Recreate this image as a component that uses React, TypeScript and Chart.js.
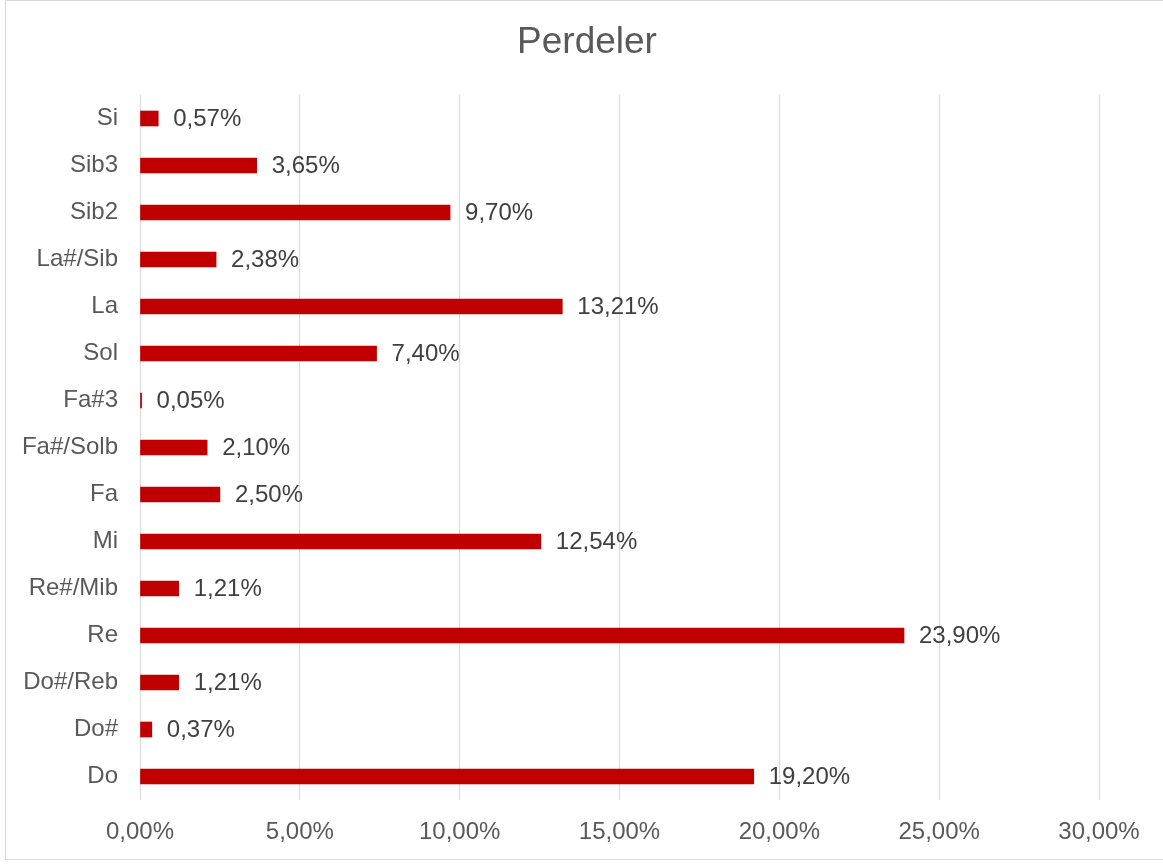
import React, { useEffect, useRef } from "react";
import { Chart, registerables } from "chart.js";

Chart.register(...registerables);

const categories = ["Do", "Do#", "Do#/Reb", "Re", "Re#/Mib", "Mi", "Fa", "Fa#/Solb", "Fa#3", "Sol", "La", "La#/Sib", "Sib2", "Sib3", "Si"];
const values = [19.2, 0.37, 1.21, 23.9, 1.21, 12.54, 2.5, 2.1, 0.05, 7.4, 13.21, 2.38, 9.7, 3.65, 0.57];
const xTicks = [0, 5, 10, 15, 20, 25, 30];
const title = "Perdeler";

const FONT = '"Liberation Sans", Arial, sans-serif';
const fmt = (v: number) => v.toFixed(2).replace(".", ",") + "%";

const labelPlugin = {
  id: "barLabels",
  afterDatasetsDraw(chart: any) {
    const ctx = chart.ctx;
    const meta = chart.getDatasetMeta(0);
    ctx.save();
    ctx.font = "24px " + FONT;
    ctx.fillStyle = "#404040";
    ctx.textAlign = "left";
    ctx.textBaseline = "middle";
    meta.data.forEach((bar: any, i: number) => {
      ctx.fillText(fmt(values[i]), bar.x + 15, bar.y + 1);
    });
    ctx.restore();
  },
};

const titlePlugin = {
  id: "centerTitle",
  afterDraw(chart: any) {
    const ctx = chart.ctx;
    ctx.save();
    ctx.font = "37px " + FONT;
    ctx.fillStyle = "#595959";
    ctx.textAlign = "center";
    ctx.textBaseline = "middle";
    ctx.fillText(title, 587, 43);
    ctx.restore();
  },
};

export default function App() {
  const ref = useRef<HTMLCanvasElement>(null);
  useEffect(() => {
    if (!ref.current) return;
    const chart = new Chart(ref.current, {
      type: "bar",
      data: {
        labels: categories,
        datasets: [
          {
            data: values,
            backgroundColor: "#c00000",
            borderWidth: 0,
            barThickness: 15,
          },
        ],
      },
      options: {
        indexAxis: "y",
        responsive: false,
        animation: false,
        layout: { padding: { left: 0, right: 64, top: 95, bottom: 0 } },
        plugins: {
          legend: { display: false },
          tooltip: { enabled: false },
          title: { display: false },
        },
        scales: {
          x: {
            min: 0,
            max: 30,
            afterBuildTicks: (s: any) => {
              s.ticks = xTicks.map((v) => ({ value: v }));
            },
            afterFit: (s: any) => {
              s.height = 64;
            },
            grid: { color: "#d9d9d9", lineWidth: 1, drawTicks: false },
            border: { display: false },
            ticks: {
              padding: 18,
              color: "#595959",
              font: { family: FONT, size: 24 },
              callback: (v: any) => fmt(Number(v)),
            },
          },
          y: {
            reverse: true,
            afterFit: (s: any) => {
              s.width = 140;
            },
            grid: { display: false, drawTicks: false },
            border: { display: false },
            ticks: {
              padding: 22,
              color: "#595959",
              font: { family: FONT, size: 24 },
            },
          },
        },
      },
      plugins: [labelPlugin, titlePlugin],
    });
    return () => chart.destroy();
  }, []);

  return (
    <div style={{ position: "fixed", left: 0, top: 0, width: 1163, height: 864, overflow: "hidden", background: "#fff" }}>
      <div
        style={{
          position: "absolute",
          left: 5,
          top: 0,
          width: 1170,
          height: 860,
          boxSizing: "border-box",
          border: "1px solid #d9d9d9",
        }}
      />
      <canvas ref={ref} width={1163} height={864} style={{ position: "absolute", left: 0, top: 0 }} />
    </div>
  );
}
